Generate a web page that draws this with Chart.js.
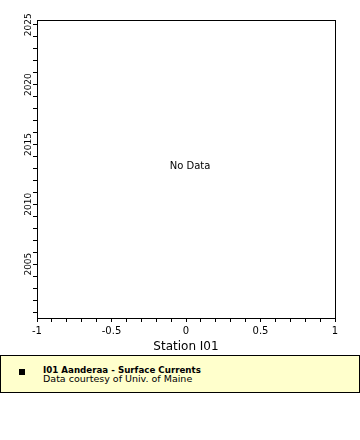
<!DOCTYPE html>
<html>
<head>
<meta charset="utf-8">
<script src="https://cdn.jsdelivr.net/npm/chart.js@4/dist/chart.umd.min.js"></script>
<style>
    body { margin: 0; background: #fff; width: 360px; height: 440px; overflow: hidden; font-family: 'DejaVu Sans', sans-serif; }
    #wrap { position: absolute; left: 0; top: 0; width: 360px; height: 354px; }
    #legend { position: absolute; left: 0; top: 355px; width: 358px; height: 36px; background: #ffffcc; border: 1px solid #000; }
    #legend .mark { position: absolute; left: 18px; top: 13px; width: 6px; height: 6px; background: #000; }
    #legend .t1 { position: absolute; left: 42px; top: 9px; font-size: 8.7px; font-weight: bold; line-height: 10px; }
    #legend .t2 { position: absolute; left: 42px; top: 18px; font-size: 9.5px; line-height: 10px; }
</style>
</head>
<body>
<div id="wrap"><canvas id="chart" width="360" height="354"></canvas></div>
<div id="legend">
    <div class="mark"></div>
    <div class="t1" id="legTitle"></div>
    <div class="t2" id="legSub"></div>
</div>
<script>
// no observations for this station, so the series is empty
const points = [];
const xTicks = [-1, -0.9, -0.8, -0.7, -0.6, -0.5, -0.4, -0.3, -0.2, -0.1, 0, 0.1, 0.2, 0.3, 0.4, 0.5, 0.6, 0.7, 0.8, 0.9, 1];
const xTickLabels = {'-1': '-1', '-0.5': '-0.5', '0': '0', '0.5': '0.5', '1': '1'};
const yTicks = [2001, 2002, 2003, 2004, 2005, 2006, 2007, 2008, 2009, 2010, 2011, 2012, 2013, 2014, 2015, 2016, 2017, 2018, 2019, 2020, 2021, 2022, 2023, 2024, 2025];
const yTickLabels = {'2005': '2005', '2010': '2010', '2015': '2015', '2020': '2020', '2025': '2025'};
const seriesName = 'I01 Aanderaa - Surface Currents';
const sourceNote = 'Data courtesy of Univ. of Maine';
const xTitle = 'Station I01';

document.getElementById('legTitle').innerText = seriesName;
document.getElementById('legSub').innerText = sourceNote;

Chart.defaults.font.family = "'DejaVu Sans', sans-serif";
Chart.defaults.color = '#000';

const frame = {
    id: 'frame',
    afterDraw(chart) {
        const { ctx, chartArea: a } = chart;
        ctx.save();
        ctx.strokeStyle = '#000';
        ctx.lineWidth = 1;
        ctx.strokeRect(Math.round(a.left) + 0.5, Math.round(a.top) + 0.5, Math.round(a.right - a.left), Math.round(a.bottom - a.top));
        if (!points.length) {
            ctx.fillStyle = '#000';
            ctx.font = "10px 'DejaVu Sans'";
            ctx.textAlign = 'center';
            ctx.textBaseline = 'middle';
            ctx.fillText('No Data', (a.left + a.right) / 2 + 4, (a.top + a.bottom) / 2 - 3);
        }
        ctx.restore();
    }
};

const tickGrid = { drawOnChartArea: false, drawTicks: true, tickLength: 4, color: '#000' };

new Chart(document.getElementById('chart'), {
    type: 'scatter',
    data: { datasets: [{ label: seriesName, data: points, backgroundColor: '#000', pointStyle: 'rect', pointRadius: 3 }] },
    options: {
        responsive: false,
        animation: false,
        layout: { padding: { left: 0, right: 25, top: 20, bottom: 0 } },
        plugins: { legend: { display: false }, tooltip: { enabled: false } },
        scales: {
            x: {
                type: 'linear', min: -1, max: 1,
                grid: tickGrid,
                border: { display: true, color: '#000' },
                afterBuildTicks: s => { s.ticks = xTicks.map(v => ({ value: v })); },
                afterFit: s => { s.height = 36; },
                ticks: { autoSkip: false, maxRotation: 0, padding: 3, font: { size: 10 },
                    callback: v => xTickLabels[String(Math.round(v * 10) / 10)] || '' },
                title: { display: true, text: xTitle, font: { size: 12 }, padding: { top: 0, bottom: 0 } }
            },
            y: {
                type: 'linear', min: 2000.5, max: 2025.4,
                grid: tickGrid,
                border: { display: true, color: '#000' },
                afterBuildTicks: s => { s.ticks = yTicks.map(v => ({ value: v })); },
                afterFit: s => { s.width = 37; },
                ticks: { autoSkip: false, minRotation: 90, maxRotation: 90, padding: -7, crossAlign: 'center', font: { size: 9 },
                    callback: v => yTickLabels[String(v)] || '' }
            }
        }
    },
    plugins: [frame]
});
</script>
</body>
</html>
